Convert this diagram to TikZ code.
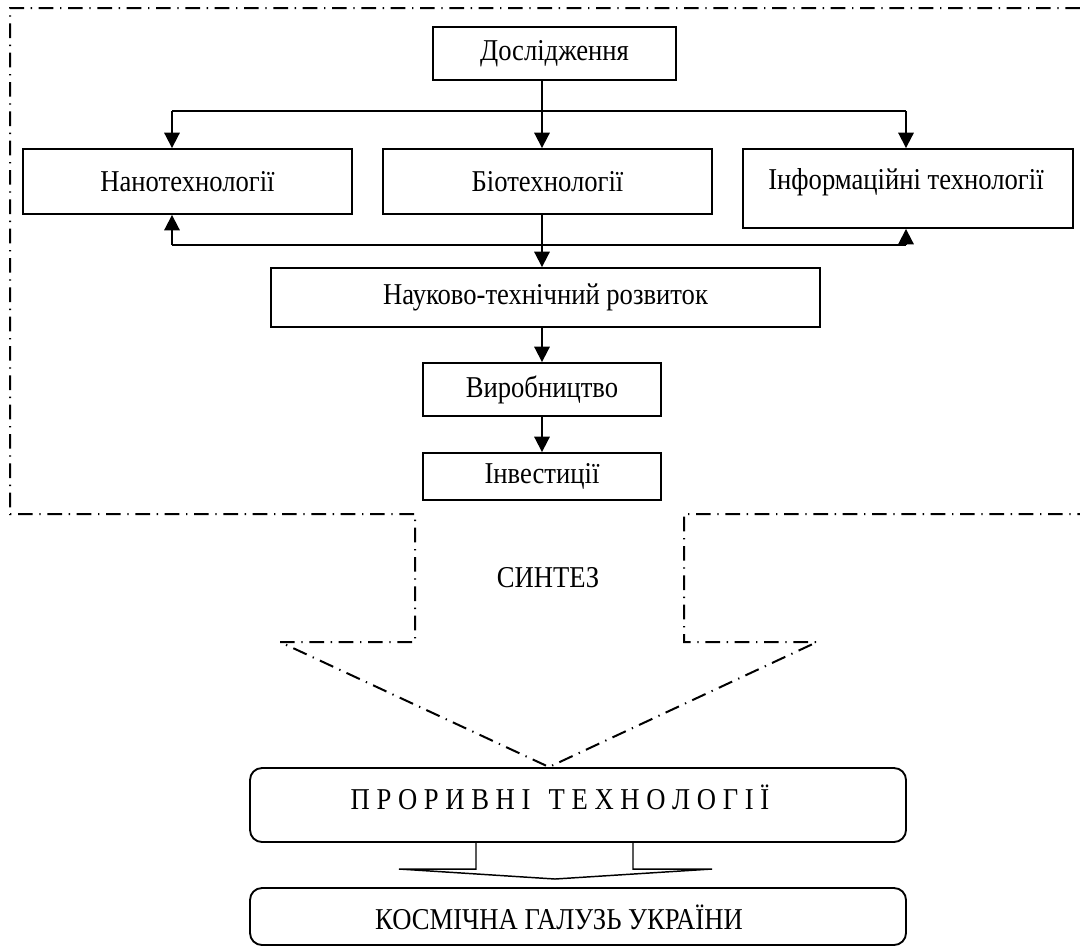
\documentclass[tikz,border=0pt]{standalone}
\usepackage{fontspec}
\setmainfont{Liberation Serif}[FakeStretch=0.88]
\usetikzlibrary{arrows.meta}
\begin{document}
\begin{tikzpicture}[x=0.75pt,y=-0.75pt,
  every node/.style={font=\fontsize{22.7}{26}\selectfont},
  box/.style={draw, line width=1.4pt, rectangle, inner sep=0pt},
  rbox/.style={box, rounded corners=9pt},
  lbl/.style={inner sep=0pt},
  arr/.style={line width=1.4pt, -{Triangle[length=11.5pt,width=11.5pt]}},
  conn/.style={line width=1.4pt},
  thickconn/.style={line width=2pt},
  dashdot/.style={line width=1.5pt, dash pattern=on 11pt off 5pt on 1pt off 5pt},
  blk/.style={line width=1.1pt, line join=miter}
]
\useasboundingbox (0,0) rectangle (1080,947);

% outline of the synthesis arrow
\draw[dashdot] (1080,8) -- (10,8) -- (10,514) -- (415,514) -- (415,642) -- (280,642)
  -- (549,767) -- (817,642) -- (684,642) -- (684,514) -- (1080,514);

% boxes
\node[box, minimum width=182.25pt, minimum height=39.75pt] (dosl) at (554.5,53.5) {Дослідження};
\node[box, minimum width=246.75pt, minimum height=48.75pt] (nano) at (187.5,181.5) {Нанотехнології};
\node[box, minimum width=246.75pt, minimum height=48.75pt] (bio) at (547.5,181.5) {Біотехнології};
\node[box, minimum width=247.5pt, minimum height=59.25pt] (info) at (908,188.5) {};
\node[lbl] (infot) at (906,182) {Інформаційні технології};
\node[box, minimum width=411.75pt, minimum height=44.25pt] (ntr) at (545.5,297.5) {Науково-технічний розвиток};
\node[box, minimum width=178.5pt, minimum height=39.75pt] (vyrob) at (542,389.5) {Виробництво};
\node[box, minimum width=178.5pt, minimum height=35.25pt] (invest) at (542,476.5) {Інвестиції};

\node[lbl] (synth) at (548,578) {СИНТЕЗ};

\node[rbox, minimum width=492pt, minimum height=55.5pt] (prorv) at (578,805) {};
\node[lbl] (prorvt) at (560,797) {П Р О Р И В Н І\hspace{0.6em}Т Е Х Н О Л О Г І Ї};
\node[rbox, minimum width=492pt, minimum height=42.75pt] (kosm) at (578,916.5) {};
\node[lbl] (kosmt) at (559,917) {КОСМІЧНА ГАЛУЗЬ УКРАЇНИ};

% connectors
\coordinate (ax) at (542,0);
\coordinate (sl) at (172,111);
\coordinate (sr) at (906,111);
\coordinate (fl) at (172,245);
\coordinate (fr) at (906,245);

\draw[conn] (sl) -- (sr);
\draw[arr] (dosl.south -| ax) -- (bio.north -| ax);
\draw[arr] (sl) -- (sl |- nano.north);
\draw[arr] (sr) -- (sr |- info.north);
\draw[thickconn] (fl) -- (fr);
\draw[arr] (fl) -- (fl |- nano.south);
\draw[arr] (fr) -- (fr |- info.south);
\draw[arr] (bio.south -| ax) -- (ntr.north -| ax);
\draw[arr] (ntr.south -| ax) -- (vyrob.north);
\draw[arr] (vyrob.south) -- (invest.north);

% block arrow between the bottom boxes
\draw[blk] (476,842) -- (476,869) -- (399,869) -- (555,879) -- (712,869) -- (633,869) -- (633,842);
\end{tikzpicture}
\end{document}
